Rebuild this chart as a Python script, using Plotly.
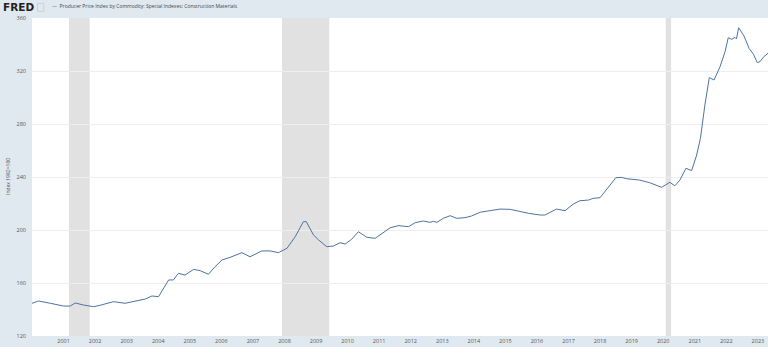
import plotly.graph_objects as go

# Producer Price Index by Commodity: Special Indexes: Construction Materials (Index 1982=100)
year = [
    2000.00, 2000.21, 2000.58, 2001.00, 2001.21, 2001.37, 2001.63, 2001.95, 2002.16, 2002.58,
    2002.95, 2003.33, 2003.59, 2003.80, 2004.01, 2004.33, 2004.48, 2004.64, 2004.85, 2005.12,
    2005.33, 2005.59, 2005.80, 2006.02, 2006.28, 2006.65, 2006.91, 2007.28, 2007.55, 2007.81,
    2008.08, 2008.34, 2008.60, 2008.69, 2008.92, 2009.08, 2009.34, 2009.55, 2009.76, 2009.92,
    2010.13, 2010.34, 2010.61, 2010.87, 2011.08, 2011.35, 2011.61, 2011.93, 2012.14, 2012.40,
    2012.61, 2012.72, 2012.83, 2013.03, 2013.25, 2013.46, 2013.72, 2013.93, 2014.20, 2014.51,
    2014.83, 2015.15, 2015.41, 2015.73, 2016.10, 2016.25, 2016.62, 2016.89, 2017.15, 2017.36,
    2017.63, 2017.78, 2018.00, 2018.21, 2018.31, 2018.50, 2018.68, 2018.84, 2019.25, 2019.57,
    2019.95, 2020.21, 2020.37, 2020.53, 2020.72, 2020.90, 2021.06, 2021.18, 2021.32, 2021.46,
    2021.61, 2021.80, 2021.96, 2022.06, 2022.17, 2022.27, 2022.32, 2022.39, 2022.56, 2022.72,
    2022.86, 2022.98, 2023.07, 2023.17, 2023.32,
]
ppi = [
    144.7, 146.4, 144.7, 142.6, 142.6, 144.9, 143.4, 142.1, 143.2, 145.9,
    144.7, 146.4, 147.9, 150.2, 149.7, 162.3, 162.3, 167.3, 166.0, 170.3,
    169.3, 166.6, 172.3, 177.4, 179.4, 182.9, 179.8, 184.2, 184.2, 182.9,
    186.2, 195.0, 206.3, 206.3, 196.2, 192.5, 187.4, 187.9, 190.4, 189.4,
    193.0, 198.7, 194.5, 193.7, 197.5, 201.7, 203.3, 202.5, 205.5, 206.8,
    205.8, 206.5, 205.8, 208.8, 210.8, 208.8, 209.3, 210.6, 213.4, 214.6,
    215.8, 215.6, 214.1, 212.6, 211.3, 211.3, 215.8, 214.6, 219.6, 222.1,
    222.6, 223.9, 224.4, 230.9, 233.2, 239.5, 239.7, 238.7, 237.7, 235.7,
    232.2, 236.0, 233.4, 237.7, 246.6, 244.8, 256.6, 269.2, 294.3, 315.0,
    313.2, 323.2, 334.6, 345.1, 343.9, 345.4, 344.2, 352.7, 346.4, 337.1,
    332.6, 326.3, 327.1, 330.4, 333.4,
]

# NBER recessions (start, end) in decimal years
recession_start = [2001.17, 2007.92, 2020.08]
recession_end = [2001.83, 2009.42, 2020.25]

y_ticks = [120, 160, 200, 240, 280, 320, 360]
x_ticks = list(range(2001, 2024))

LINE = "#4d73a3"
BG = "#e1e9f0"

fig = go.Figure()
fig.add_trace(go.Scatter(
    x=year, y=ppi, mode="lines",
    line=dict(color=LINE, width=1),
    name="Producer Price Index by Commodity: Special Indexes: Construction Materials",
    showlegend=False,
))

for x0, x1 in zip(recession_start, recession_end):
    fig.add_vrect(x0=x0, x1=x1, fillcolor="#e1e1e1", opacity=1, line_width=0, layer="below")

fig.update_layout(
    width=768, height=347,
    margin=dict(l=32, r=0, t=18, b=11),
    paper_bgcolor=BG, plot_bgcolor="#ffffff",
    font=dict(family="Open Sans, DejaVu Sans, sans-serif", color="#555555", size=5.5),
    xaxis=dict(
        range=[2000, 2023.32], tickvals=x_ticks, ticktext=[str(t) for t in x_ticks],
        showgrid=False, zeroline=False, showline=False, ticks="",
        tickfont=dict(size=5.5, color="#555555"),
    ),
    yaxis=dict(
        range=[120, 360], tickvals=y_ticks, showgrid=True, gridcolor="#eeeeee",
        gridwidth=1, zeroline=False, showline=False, ticks="",
        tickfont=dict(size=5.5, color="#555555"), ticklabelstandoff=5,
    ),
)

fig.add_annotation(
    text="Index 1982=100", textangle=-90, xref="paper", yref="paper",
    x=-0.0326, y=0.5, showarrow=False, font=dict(size=5, color="#555555"),
    xanchor="center", yanchor="middle",
)

# Header: logo and series key
fig.add_annotation(
    text="<b>FRED</b>", xref="paper", yref="paper", x=-0.042, y=1.035,
    xanchor="left", yanchor="middle", showarrow=False,
    font=dict(family="Arial Black, DejaVu Sans, sans-serif", size=10.5, color="#222222"),
)
fig.add_shape(type="rect", xref="paper", yref="paper",
              x0=0.0075, x1=0.0160, y0=1.021, y1=1.046,
              line=dict(color="#b7c3cf", width=0.6), fillcolor="rgba(0,0,0,0)")
fig.add_annotation(
    text="<span style='color:%s'>—</span>  Producer Price Index by Commodity: Special Indexes: Construction Materials" % LINE,
    xref="paper", yref="paper", x=0.0240, y=1.037, xanchor="left", yanchor="middle",
    showarrow=False, font=dict(size=5, color="#444444"),
)

fig.write_html("out.html")
